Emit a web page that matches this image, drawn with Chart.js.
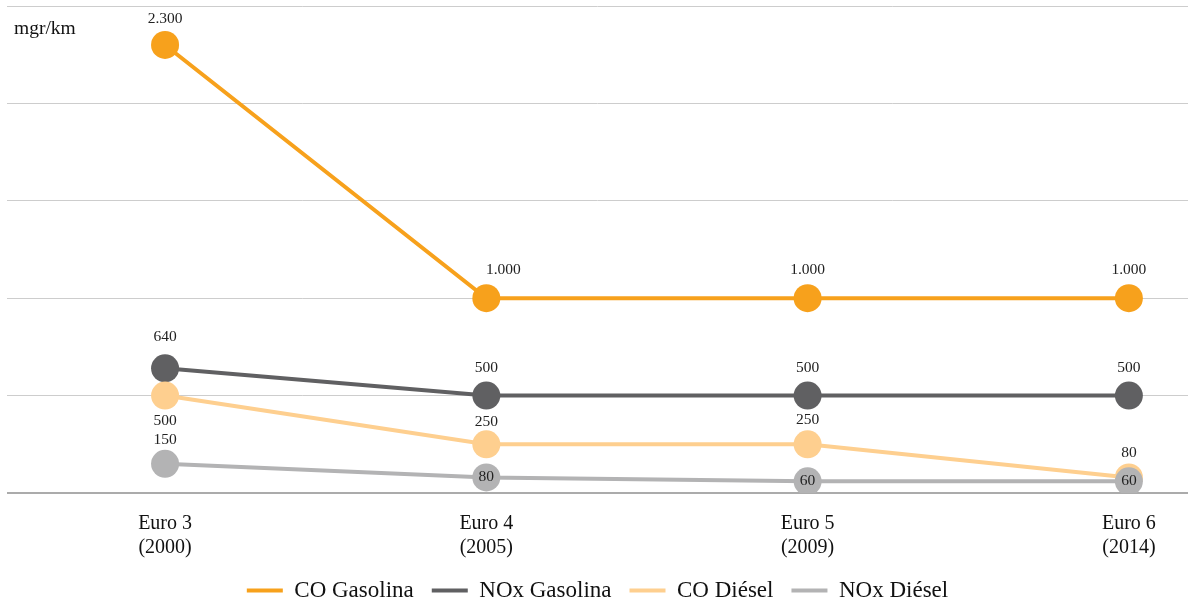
<!DOCTYPE html>
<html lang="es">
<head>
<meta charset="utf-8">
<title>Límites de emisiones Euro</title>
<script src="https://cdn.jsdelivr.net/npm/chart.js@4.4.1/dist/chart.umd.min.js"></script>
<style>
  html, body { margin: 0; padding: 0; background: #ffffff; }
  #wrap { width: 1194px; height: 602px; position: relative; }
</style>
</head>
<body>
<div id="wrap"><canvas id="chart"></canvas></div>
<script>
// Normas Euro y año de entrada en vigor
const STAGES = ["Euro 3", "Euro 4", "Euro 5", "Euro 6"];
const YEARS = ["(2000)", "(2005)", "(2009)", "(2014)"];

// Límites en mgr/km
const CO_GASOLINA = [2300, 1000, 1000, 1000];
const NOX_GASOLINA = [640, 500, 500, 500];
const CO_DIESEL = [500, 250, 250, 80];
const NOX_DIESEL = [150, 80, 60, 60];

const Y_TICKS = [0, 500, 1000, 1500, 2000, 2500];

const SERIF = "'Liberation Serif', 'DejaVu Serif', serif";

function fmt(v) {
  return String(v).replace(/\B(?=(\d{3})+(?!\d))/g, ".");
}

function series(values) {
  return values.map((v, i) => ({ x: i, y: v }));
}

// Where each value label sits relative to its point
const LABEL_PLACEMENT = [
  [{ dy: -26 }, { dx: 17, dy: -28 }, { dy: -28 }, { dy: -28 }],
  [{ dy: -31 }, { dy: -28 }, { dy: -28 }, { dy: -28 }],
  [{ dy: 25 }, { dy: -22 }, { dy: -24 }, { dy: -24 }],
  [{ dy: -24 }, { dy: 0 }, { dy: 0 }, { dy: 0 }]
];

const valueLabels = {
  id: "valueLabels",
  afterDatasetsDraw(chart) {
    const ctx = chart.ctx;
    ctx.save();
    ctx.font = "15.5px " + SERIF;
    ctx.fillStyle = "#222222";
    ctx.textAlign = "center";
    ctx.textBaseline = "middle";
    chart.data.datasets.forEach((ds, di) => {
      const meta = chart.getDatasetMeta(di);
      meta.data.forEach((pt, i) => {
        const p = LABEL_PLACEMENT[di][i];
        ctx.fillText(fmt(ds.data[i].y), pt.x + (p.dx || 0), pt.y + p.dy);
      });
    });
    ctx.restore();
  }
};

const unitLabel = {
  id: "unitLabel",
  afterDraw(chart) {
    const ctx = chart.ctx;
    ctx.save();
    ctx.font = "19.5px " + SERIF;
    ctx.fillStyle = "#111111";
    ctx.textAlign = "left";
    ctx.textBaseline = "middle";
    ctx.fillText("mgr/km", 14, 29);
    ctx.restore();
  }
};

function lineSet(label, values, color, width, order) {
  return {
    label,
    data: series(values),
    borderColor: color,
    backgroundColor: color,
    pointBackgroundColor: color,
    pointBorderColor: color,
    borderWidth: width,
    pointRadius: 14,
    pointHoverRadius: 14,
    pointBorderWidth: 0,
    tension: 0,
    order
  };
}

new Chart(document.getElementById("chart"), {
  type: "line",
  data: {
    datasets: [
      lineSet("CO Gasolina", CO_GASOLINA, "#F7A11C", 4, 4),
      lineSet("NOx Gasolina", NOX_GASOLINA, "#606062", 4, 3),
      lineSet("CO Diésel", CO_DIESEL, "#FECF8F", 4, 2),
      lineSet("NOx Diésel", NOX_DIESEL, "#B3B3B4", 4, 1)
    ]
  },
  options: {
    responsive: true,
    maintainAspectRatio: false,
    animation: false,
    events: [],
    layout: {
      autoPadding: false,
      padding: { left: 7, right: 6, top: 6, bottom: -10 }
    },
    plugins: {
      tooltip: { enabled: false },
      legend: {
        position: "bottom",
        labels: {
          usePointStyle: true,
          pointStyle: "line",
          pointStyleWidth: 36,
          boxHeight: 23,
          padding: 18,
          color: "#111111",
          font: { family: SERIF, size: 23 },
          sort: (a, b) => a.datasetIndex - b.datasetIndex,
          generateLabels(chart) {
            const items = Chart.defaults.plugins.legend.labels.generateLabels(chart);
            return items.map(item => {
              const ds = chart.data.datasets[item.datasetIndex];
              return Object.assign(item, {
                lineWidth: 4,
                strokeStyle: ds.borderColor,
                fillStyle: ds.borderColor,
                pointStyle: "line"
              });
            });
          }
        }
      }
    },
    scales: {
      x: {
        type: "linear",
        min: -0.492,
        max: 3.184,
        grid: { display: false },
        border: { display: false },
        afterBuildTicks(scale) {
          scale.ticks = STAGES.map((_, i) => ({ value: i }));
        },
        afterFit(scale) { scale.height = 68; },
        ticks: {
          padding: 11,
          color: "#111111",
          font: { family: SERIF, size: 20, lineHeight: 1.18 },
          maxRotation: 0,
          callback: (v) => [STAGES[v], YEARS[v]]
        }
      },
      y: {
        min: 0,
        max: 2500,
        afterBuildTicks(scale) {
          scale.ticks = Y_TICKS.map(v => ({ value: v }));
        },
        ticks: { display: false },
        border: { display: false },
        grid: {
          drawTicks: false,
          color: (c) => c.tick && c.tick.value === 0 ? "#ababab" : "#cdcdcd",
          lineWidth: (c) => c.tick && c.tick.value === 0 ? 2 : 1
        }
      }
    }
  },
  plugins: [valueLabels, unitLabel]
});
</script>
</body>
</html>
